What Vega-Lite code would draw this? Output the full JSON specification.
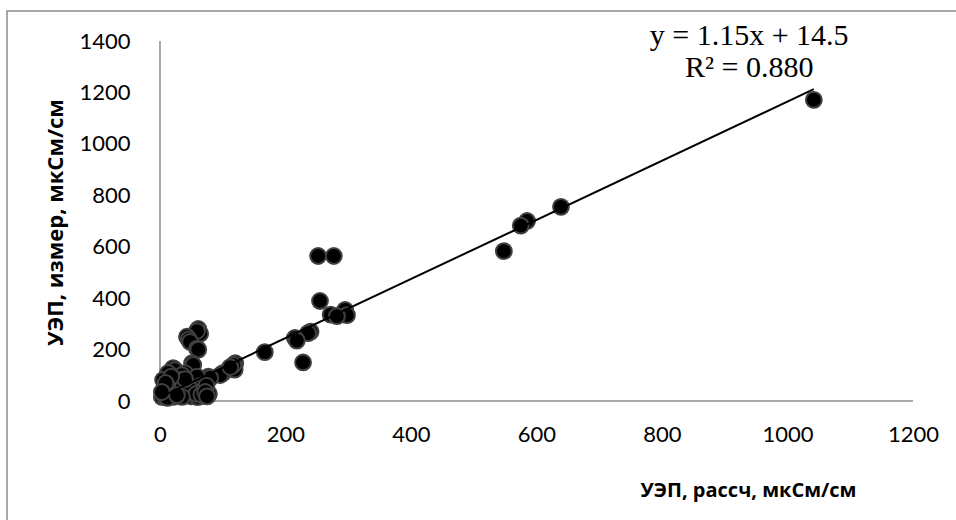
{
  "$schema": "https://vega.github.io/schema/vega-lite/v6.json",
  "width": 960,
  "height": 520,
  "autosize": {"type": "none"},
  "padding": {"left": 7, "top": 11, "right": 0, "bottom": 0},
  "background": "#ffffff",
  "config": {
    "view": {"stroke": "#8c8c8c", "strokeWidth": 1.5},
    "axis": {
      "grid": false,
      "ticks": false,
      "domain": false,
      "format": "d",
      "labelFont": "Lato",
      "labelFontSize": 22,
      "labelColor": "#000000",
      "titleFont": "Open Sans",
      "titleFontWeight": "bold",
      "titleColor": "#000000"
    }
  },
  "datasets": {
    "points": [
      {"x": 1042, "y": 1171}, {"x": 639, "y": 755}, {"x": 585, "y": 700}, {"x": 575, "y": 682},
      {"x": 548, "y": 583}, {"x": 252, "y": 564}, {"x": 277, "y": 564}, {"x": 255, "y": 389},
      {"x": 295, "y": 354}, {"x": 298, "y": 334}, {"x": 272, "y": 336}, {"x": 282, "y": 330},
      {"x": 240, "y": 270}, {"x": 236, "y": 264}, {"x": 215, "y": 245}, {"x": 218, "y": 235},
      {"x": 228, "y": 150}, {"x": 167, "y": 190}, {"x": 120, "y": 147}, {"x": 119, "y": 122},
      {"x": 117, "y": 140}, {"x": 100, "y": 108}, {"x": 96, "y": 101}, {"x": 112, "y": 132},
      {"x": 61, "y": 280}, {"x": 64, "y": 262}, {"x": 59, "y": 272}, {"x": 43, "y": 250},
      {"x": 46, "y": 240}, {"x": 48, "y": 230}, {"x": 59, "y": 204}, {"x": 61, "y": 200},
      {"x": 51, "y": 147}, {"x": 53, "y": 140}, {"x": 21, "y": 128}, {"x": 24, "y": 120},
      {"x": 16, "y": 101}, {"x": 13, "y": 109}, {"x": 40, "y": 108}, {"x": 35, "y": 101},
      {"x": 32, "y": 82}, {"x": 77, "y": 95}, {"x": 80, "y": 90}, {"x": 56, "y": 70},
      {"x": 59, "y": 95}, {"x": 67, "y": 30}, {"x": 77, "y": 23}, {"x": 78, "y": 28},
      {"x": 53, "y": 35}, {"x": 32, "y": 43}, {"x": 43, "y": 31}, {"x": 11, "y": 31},
      {"x": 3, "y": 16}, {"x": 8, "y": 16}, {"x": 21, "y": 16}, {"x": 21, "y": 23},
      {"x": 19, "y": 62}, {"x": 5, "y": 82}, {"x": 10, "y": 50}, {"x": 15, "y": 40},
      {"x": 25, "y": 55}, {"x": 30, "y": 30}, {"x": 38, "y": 20}, {"x": 45, "y": 25},
      {"x": 50, "y": 18}, {"x": 60, "y": 15}, {"x": 70, "y": 20}, {"x": 62, "y": 40},
      {"x": 65, "y": 60}, {"x": 55, "y": 50}, {"x": 45, "y": 60}, {"x": 28, "y": 70},
      {"x": 6, "y": 25}, {"x": 12, "y": 12}, {"x": 26, "y": 36}, {"x": 36, "y": 52},
      {"x": 48, "y": 45}, {"x": 70, "y": 45}, {"x": 74, "y": 60}, {"x": 40, "y": 85},
      {"x": 18, "y": 95}, {"x": 9, "y": 70}, {"x": 3, "y": 35}, {"x": 58, "y": 28},
      {"x": 66, "y": 25}, {"x": 72, "y": 35}, {"x": 75, "y": 18}, {"x": 35, "y": 16},
      {"x": 27, "y": 23}
    ],
    "trend": [
      {"x": 3, "y": 17.95},
      {"x": 1042, "y": 1212.8}
    ],
    "axisLines": [
      {"x": 0, "x2": 1200, "y": 0, "y2": 0},
      {"x": 0, "x2": 0, "y": 0, "y2": 1400}
    ],
    "equation": [
      {"x": 939, "y": 1418, "label": ["y = 1.15x + 14.5", "R² = 0.880"]}
    ]
  },
  "encoding": {
    "x": {
      "field": "x",
      "type": "quantitative",
      "scale": {"domain": [-243.8, 1286.1], "nice": false, "zero": false},
      "axis": {
        "values": [0, 200, 400, 600, 800, 1000, 1200],
        "offset": -130,
        "labelPadding": 23,
        "title": "УЭП, рассч, мкСм/см",
        "titleFontSize": 20,
        "titleX": 741,
        "titleY": 89,
        "titleAlign": "center",
        "titleBaseline": "middle"
      }
    },
    "y": {
      "field": "y",
      "type": "quantitative",
      "scale": {"domain": [-505.5, 1516.7], "nice": false, "zero": false},
      "axis": {
        "values": [0, 200, 400, 600, 800, 1000, 1200, 1400],
        "offset": -153,
        "labelPadding": 30,
        "labelBaseline": "middle",
        "title": "УЭП, измер, мкСм/см",
        "titleFontSize": 22,
        "titleAngle": -90,
        "titleX": -105,
        "titleY": 211,
        "titleAlign": "center",
        "titleBaseline": "middle"
      }
    }
  },
  "layer": [
    {
      "data": {"name": "axisLines"},
      "mark": {"type": "rule", "color": "#8c8c8c", "strokeWidth": 1.5},
      "encoding": {
        "x2": {"field": "x2"},
        "y2": {"field": "y2"}
      }
    },
    {
      "data": {"name": "points"},
      "mark": {
        "type": "point",
        "shape": "circle",
        "filled": true,
        "fill": "#000000",
        "stroke": "#404040",
        "strokeWidth": 2,
        "size": 250,
        "opacity": 1
      }
    },
    {
      "data": {"name": "trend"},
      "mark": {"type": "line", "color": "#000000", "strokeWidth": 2}
    },
    {
      "data": {"name": "equation"},
      "mark": {
        "type": "text",
        "font": "Liberation Serif",
        "fontSize": 30,
        "lineHeight": 32,
        "align": "center",
        "baseline": "middle",
        "color": "#000000"
      },
      "encoding": {"text": {"field": "label"}}
    }
  ]
}
